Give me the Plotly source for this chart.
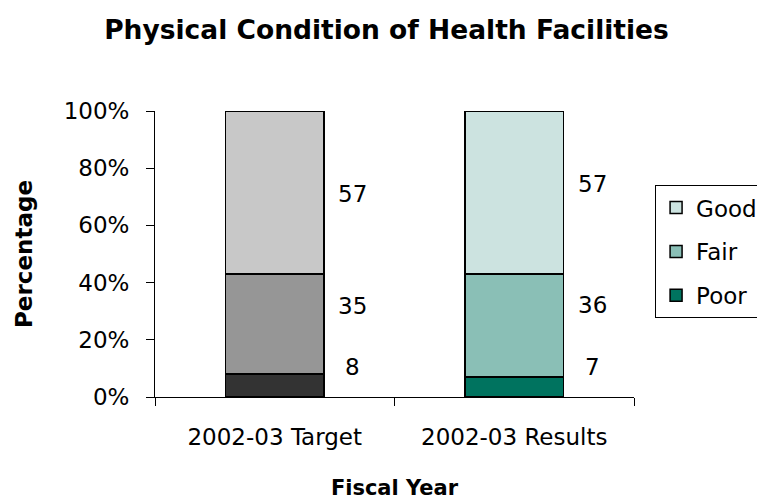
import plotly.graph_objects as go

# data (percentages)
years = ['2002-03 Target', '2002-03 Results']
conditions = ['Poor', 'Fair', 'Good']
poor = [8, 7]
fair = [35, 36]
good = [57, 57]
y_ticks = [0, 20, 40, 60, 80, 100]
y_tick_text = ['0%', '20%', '40%', '60%', '80%', '100%']

gray_cols = {'Poor': '#333333', 'Fair': '#969696', 'Good': '#C8C8C8'}
teal_cols = {'Poor': '#00735F', 'Fair': '#8ABFB6', 'Good': '#CCE3E0'}
legend_rank = {'Good': 1, 'Fair': 2, 'Poor': 3}

FONT = 'DejaVu Sans'
values = {'Poor': poor, 'Fair': fair, 'Good': good}

fig = go.Figure()
for cond in conditions:
    v = values[cond]
    # target bar (grey, not in legend)
    fig.add_trace(go.Bar(
        x=[years[0]], y=[v[0]], name=cond,
        marker=dict(color=gray_cols[cond], line=dict(color='black', width=1.5)),
        width=0.41, showlegend=False,
    ))
    # results bar (teal, in legend)
    fig.add_trace(go.Bar(
        x=[years[1]], y=[v[1]], name=cond,
        marker=dict(color=teal_cols[cond], line=dict(color='black', width=1.5)),
        width=0.41, legendgroup=cond, legendrank=legend_rank[cond],
    ))

# value labels to the right of each bar (pixel nudges per bar)
yshift = [{'Poor': 19, 'Fair': 18, 'Good': -1},
          {'Poor': 20, 'Fair': 21, 'Good': 9}]
for i, yr in enumerate(years):
    base = 0
    for cond in conditions:
        v = values[cond][i]
        fig.add_annotation(
            x=yr, y=base + v / 2, text=str(v), showarrow=False,
            xshift=78, yshift=yshift[i][cond],
            font=dict(family=FONT, size=23, color='black'),
        )
        base += v

# page body has an 8px margin, so the figure is 8px smaller than the window
fig.update_layout(
    width=757, height=493,
    barmode='stack',
    plot_bgcolor='white', paper_bgcolor='white',
    margin=dict(l=147, r=131, t=103, b=104, autoexpand=False),
    title=dict(text='<b>Physical Condition of Health Facilities</b>',
               x=0.5, xanchor='center', y=0.955, yanchor='middle',
               font=dict(family=FONT, size=26.5, color='black')),
    font=dict(family=FONT, size=23, color='black'),
    showlegend=True,
    legend=dict(x=1.044, y=0.741, xanchor='left', yanchor='top',
                traceorder='grouped', tracegroupgap=11,
                bordercolor='black', borderwidth=1,
                font=dict(family=FONT, size=23, color='black')),
)
fig.update_xaxes(
    showline=True, linecolor='black', linewidth=1,
    ticks='outside', ticklen=8, tickcolor='black', tickson='boundaries',
    range=[-0.5, 1.5],
    tickfont=dict(family=FONT, size=23),
    ticklabelstandoff=19,
    title=dict(text='<b>Fiscal Year</b>', standoff=31,
               font=dict(family=FONT, size=21)),
)
fig.update_yaxes(
    range=[0, 100], tickvals=y_ticks, ticktext=y_tick_text,
    showline=True, linecolor='black', linewidth=1,
    ticks='outside', ticklen=8, tickcolor='black',
    showgrid=False, zeroline=False,
    tickfont=dict(family=FONT, size=23),
    ticklabelstandoff=12,
    title=dict(text='<b>Percentage</b>', standoff=24,
               font=dict(family=FONT, size=23)),
)

fig.write_html('out.html')
